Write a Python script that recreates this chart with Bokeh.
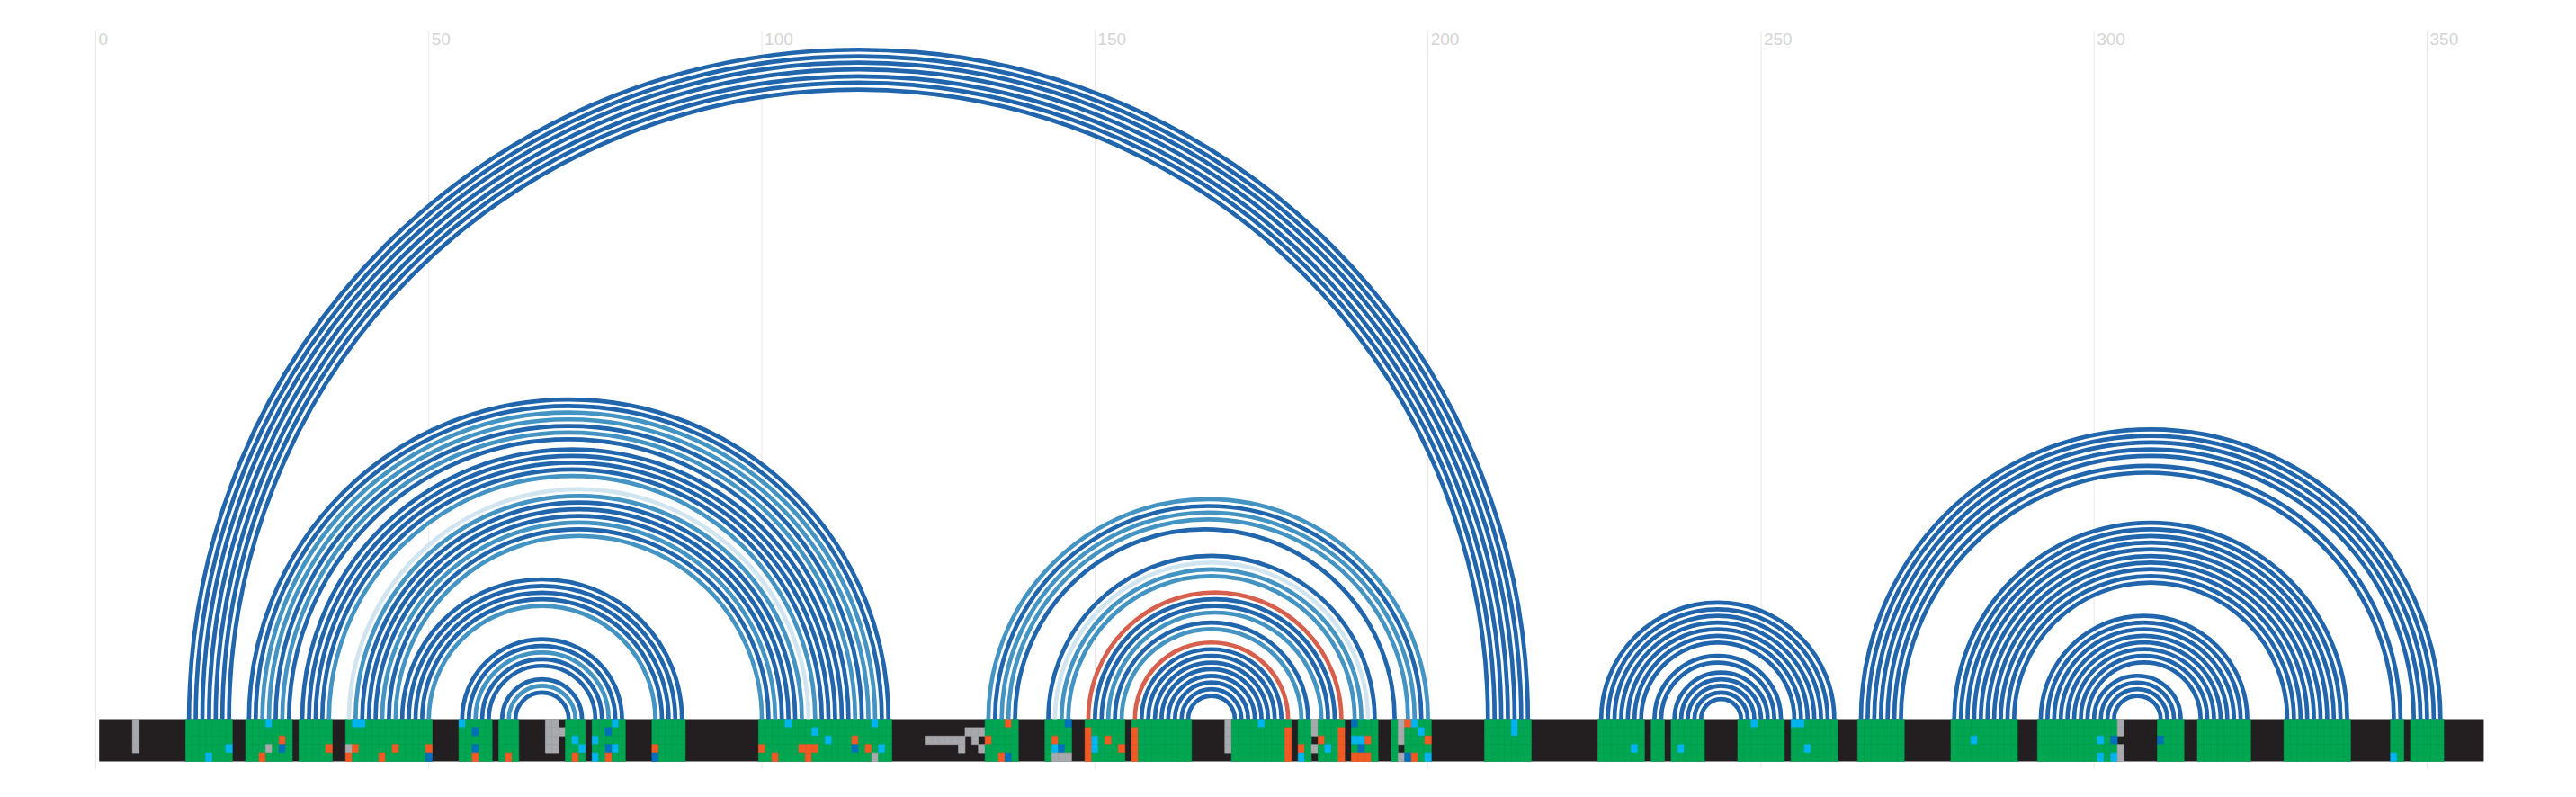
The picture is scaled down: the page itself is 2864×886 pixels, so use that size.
import numpy as np
from bokeh.plotting import figure
from bokeh.models import Range1d, ColumnDataSource
from bokeh.core.properties import value
from bokeh.embed import file_html
from bokeh.resources import INLINE

# ---------------- data ----------------
n_cols = 358
n_rows = 5
tick_values = [0, 50, 100, 150, 200, 250, 300, 350]
tick_labels = ["0", "50", "100", "150", "200", "250", "300", "350"]

# helices: 5' start column, 3' end column, number of stacked pairs
helix_i = [14, 23, 31, 38, 46, 55, 61, 134, 138, 143, 149, 153, 156, 226, 234, 237, 265, 270, 279, 292, 300]
helix_j = [215, 119, 112, 107, 88, 79, 73, 200, 195, 192, 187, 182, 179, 261, 253, 251, 352, 346, 338, 323, 313]
helix_n = [7, 7, 5, 8, 5, 5, 3, 4, 1, 4, 4, 2, 9, 7, 2, 5, 5, 2, 10, 8, 4]

# arc class by 5' column (all others: dark)
medium_pairs = [25, 26, 28, 35, 39, 43, 45, 50, 57, 62, 134, 136, 137, 145, 146, 152, 154]
light_pairs = [38, 144]
red_pairs = [149, 156]

# alignment cells that differ from the base colour (column, rows)
gap_cells = [(6, "1234"), (68, "1234"), (69, "1234"), (70, "2"), (131, "2"), (132, "23"), (133, "24"),
             (125, "3"), (126, "3"), (127, "3"), (128, "3"), (129, "3"), (130, "34"),
             (170, "1234"), (183, "124"), (196, "1235"), (304, "1245"),
             (26, "4"), (38, "4"), (117, "5"), (144, "5"), (145, "5"), (146, "5")]
cyan_cells = [(17, "5"), (20, "4"), (26, "1"), (39, "1"), (40, "1"), (55, "1"), (72, "3"), (73, "4"),
              (75, "35"), (78, "14"), (104, "1"), (108, "2"), (110, "3"), (117, "1"), (118, "4"),
              (144, "4"), (150, "34"), (175, "1"), (181, "5"), (185, "4"), (189, "3"), (190, "3"),
              (198, "1"), (199, "2"), (200, "5"), (213, "12"), (231, "4"), (238, "4"), (249, "1"),
              (255, "1"), (256, "1"), (257, "4"), (282, "3"), (301, "35"), (303, "5"), (345, "5")]
blue_cells = [(28, "4"), (50, "5"), (57, "24"), (77, "24"), (84, "5"), (114, "4"), (137, "5"),
              (145, "4"), (146, "1"), (189, "1"), (190, "4"), (197, "5"), (303, "3"), (310, "3")]
orange_cells = [(25, "5"), (28, "3"), (35, "4"), (38, "5"), (39, "4"), (43, "5"), (45, "4"), (50, "4"),
                (57, "5"), (62, "5"), (72, "5"), (77, "5"), (84, "4"), (100, "4"), (102, "5"),
                (106, "4"), (107, "45"), (108, "4"), (114, "3"), (116, "4"), (134, "3"), (136, "5"),
                (137, "1"), (144, "3"), (149, "2345"), (152, "3"), (154, "4"), (156, "2345"),
                (179, "2345"), (181, "4"), (184, "3"), (187, "2345"), (189, "5"), (190, "5"),
                (191, "35"), (197, "1"), (198, "5"), (200, "3")]

# ---------------- styles ----------------
ARC_COLORS = {"dark": "#2166AC", "medium": "#4393C3", "light": "#D1E5F0", "red": "#D6604D"}
CELL_COLORS = {"k": "#231F20", "G": "#00A651", "n": "#A7A9AC", "c": "#00B5EF",
               "b": "#0070BA", "o": "#F15A24"}

PX = 7.4057          # pixels per column
W, H = 2848, 870
x_left_px = 106      # figure px of column 0
bar_top_px = 799     # figure px of bar top
x0 = -x_left_px / PX
x1 = x0 + W / PX
y1 = bar_top_px / PX
y0 = y1 - H / PX
row_h = 47.0 / n_rows / PX

# ---------------- derived ----------------
pair_i, pair_j = [], []
for a, b, n in zip(helix_i, helix_j, helix_n):
    for k in range(n):
        pair_i.append(a + k)
        pair_j.append(b - k)
pair_i = np.array(pair_i)
pair_j = np.array(pair_j)

def arc_class(i):
    if i in red_pairs:
        return "red"
    if i in light_pairs:
        return "light"
    if i in medium_pairs:
        return "medium"
    return "dark"

arc_src = ColumnDataSource(dict(
    x=(pair_i + pair_j) / 2.0,
    y=np.zeros(len(pair_i)),
    r=(pair_j - pair_i) / 2.0,
    color=[ARC_COLORS[arc_class(i)] for i in pair_i],
))

paired = set(pair_i.tolist()) | set(pair_j.tolist())
grid = [["G" if c in paired else "k" for c in range(1, n_cols + 1)] for _ in range(n_rows)]
for code, cells in (("n", gap_cells), ("c", cyan_cells), ("b", blue_cells), ("o", orange_cells)):
    for col, rows in cells:
        for r in rows:
            grid[int(r) - 1][col - 1] = code

# non-black cells (black comes from the bar background)
cx, cy, cc = [], [], []
for r in range(n_rows):
    for c in range(n_cols):
        if grid[r][c] == "k":
            continue
        cx.append(c + 1)
        cy.append(-(r + 0.5) * row_h)
        cc.append(CELL_COLORS[grid[r][c]])
cell_src = ColumnDataSource(dict(x=cx, y=cy, color=cc))

# ---------------- figure ----------------
p = figure(width=W, height=H, x_range=Range1d(x0, x1), y_range=Range1d(y0, y1),
           output_backend="svg", toolbar_location=None, min_border=0,
           x_axis_location=None, y_axis_location=None, outline_line_color=None)
p.xgrid.visible = False
p.ygrid.visible = False
p.background_fill_color = "white"
p.border_fill_color = "white"

grid_top = (bar_top_px - 34) / PX
grid_bottom = -(854 - bar_top_px) / PX
p.segment(x0=tick_values, y0=[grid_bottom] * len(tick_values), x1=tick_values,
          y1=[grid_top] * len(tick_values), line_color="#E8E8E8", line_width=1)

p.quad(left=[0.5], right=[n_cols + 0.5], top=[0], bottom=[-n_rows * row_h],
       fill_color=CELL_COLORS["k"], line_color=None)
p.rect(x="x", y="y", width=1, height=row_h, source=cell_src, fill_color="color",
       line_color="color", line_width=0.6)

p.arc(x="x", y="y", radius="r", start_angle=0, end_angle=np.pi, source=arc_src,
      line_color="color", line_width=4.7)

label_y = (bar_top_px - 42.5) / PX
p.text(x=tick_values, y=[label_y] * len(tick_values), text=tick_labels, x_offset=3,
       text_align="left", text_baseline="alphabetic", text_font_size="19px",
       text_color="#D4D4D4", text_font=value("Liberation Sans"))

open("out.html", "w").write(file_html(p, INLINE))
